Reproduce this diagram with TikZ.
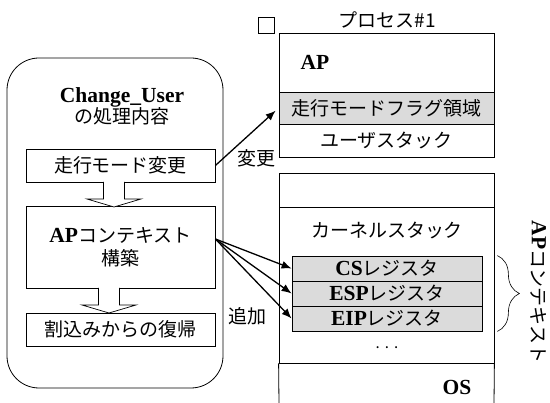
\documentclass[tikz,border=0pt]{standalone}
\usepackage{fontspec}
\setmainfont{Liberation Serif}
\newfontfamily\jp{Noto Sans CJK JP}
\usetikzlibrary{arrows.meta, positioning, decorations.pathreplacing}
\newcommand\lat[1]{{\rmfamily\bfseries\fontsize{21.5}{25}\selectfont #1}}
\tikzstyle{arrow} = [line width=1.3pt, -{Latex[length=10pt, width=8pt]}]
\tikzstyle{stepbox} = [draw, line width=0.8pt, minimum width=189pt, inner sep=0pt]
\tikzstyle{area} = [draw, line width=0.8pt, minimum width=215pt, inner sep=0pt]
\tikzstyle{reg} = [draw, line width=0.8pt, fill=gray!28, minimum width=190pt, minimum height=25pt, inner sep=0pt]

\begin{document}
\begin{tikzpicture}[
        x=1pt, y=-1pt,
        font=\jp\fontsize{19}{23}\selectfont,
        every node/.style={align=center}
    ]
        \useasboundingbox (0,0) rectangle (550,403);

        % Change_User side
        \node[draw, line width=0.8pt, rounded corners=32pt, minimum width=216pt, minimum height=330pt] (frame) at (115,223) {};
        \node (title) at (122,106) {\lat{Change\_User}\\[-2pt]の処理内容};
        \node[stepbox, minimum height=33pt] (mode) at (120.5,165.5) {走行モード変更};
        \node[stepbox, minimum height=82pt] (ctx) at (120.5,247) {\lat{AP}コンテキスト\\構築};
        \node[stepbox, minimum height=33pt] (ret) at (120.5,329.5) {割込みからの復帰};

        % hollow arrows between steps
        \foreach \cx/\ty/\by in {114/182/207, 109/288/313}
            \draw[line width=0.7pt, fill=white]
                (\cx-10.5,\ty) -- (\cx-10.5,\by-8) -- (\cx-27,\by-8) -- (\cx,\by)
                -- (\cx+27,\by-8) -- (\cx+10.5,\by-8) -- (\cx+10.5,\ty);

        % process #1
        \node[draw, line width=0.6pt, minimum size=16pt, inner sep=0pt] (sq) at (266,25.5) {};
        \node (proc) at (387,20) {プロセス\#1};
        \node[area, minimum height=59pt] (ap) at (386.5,62.5) {};
        \node[anchor=west] (aplbl) at (297,62) {\lat{AP}};
        \node[area, minimum height=32pt, fill=gray!28] (flag) at (386.5,108) {走行モードフラグ領域};
        \node[area, minimum height=33pt] (ustack) at (386.5,140.5) {ユーザスタック};

        % kernel side
        \node[area, minimum height=34pt] (top) at (386.5,190) {};
        \node[area, minimum height=156pt] (kern) at (386.5,285) {};
        \node (kstack) at (387,230) {カーネルスタック};
        \node[reg] (cs) at (387,268.5) {\lat{CS}レジスタ};
        \node[reg] (esp) at (387,293.5) {\lat{ESP}レジスタ};
        \node[reg] (eip) at (387,318.5) {\lat{EIP}レジスタ};
        \node (dots) at (387,348) {\fontsize{15}{16}\selectfont .\,\,.\,\,.};
        \coordinate (osl) at (279,404);
        \coordinate (osr) at (494,404);
        \draw[line width=0.8pt] (kern.south west) -- (osl) (kern.south east) -- (osr);
        \node (os) at (457,387) {\lat{OS}};

        % Arrows
        \draw[arrow, shorten >=4pt] (mode.east) -- (flag.west);
        \node (chg) at (256,158) {変更};
        \foreach \r in {cs, esp, eip}
            \draw[arrow] ([yshift=8pt]ctx.east) -- (\r.west);
        \node (add) at (247,316) {追加};

        % brace and its label
        \draw[line width=0.6pt, decorate, decoration={brace, amplitude=22pt}]
            ([xshift=15pt]cs.north east) -- ([xshift=15pt]eip.south east);
        \node[rotate=-90] (ctxlbl) at (539,292) {\lat{AP}コンテキスト};
    \end{tikzpicture}
\end{document}
